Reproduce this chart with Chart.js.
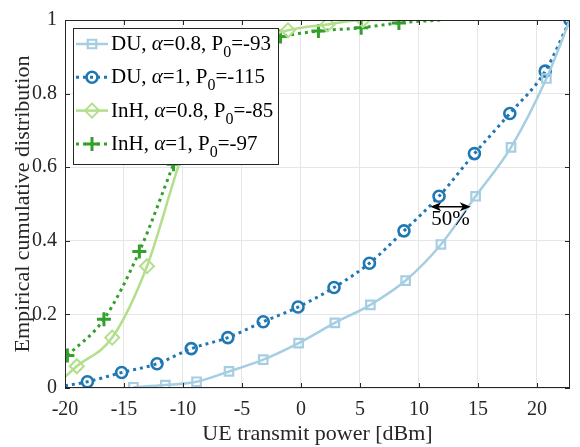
<!DOCTYPE html>
<html>
<head>
<meta charset="utf-8">
<script src="https://cdn.jsdelivr.net/npm/chart.js@4"></script>
<style>
  html, body { margin: 0; padding: 0; background: #fff; }
</style>
</head>
<body>
<canvas id="cdf" width="580" height="447"></canvas>
<script>
// axis ticks
const xTicks = [-20, -15, -10, -5, 0, 5, 10, 15, 20];
const yTicks = [0, 0.2, 0.4, 0.6, 0.8, 1];

// DU, alpha=0.8, P0=-93
const duA08X = [-14.2, -11.5, -8.85, -6.1, -3.2, -0.2, 2.87, 5.88, 8.87, 11.86, 14.8, 17.8, 20.8, 22.8];
const duA08Y = [0.002, 0.008, 0.017, 0.045, 0.077, 0.122, 0.177, 0.226, 0.292, 0.39, 0.521, 0.654, 0.841, 1.0];
// DU, alpha=1, P0=-115
const duA1X = [-20, -18.1, -15.2, -12.2, -9.3, -6.2, -3.2, -0.25, 2.8, 5.8, 8.73, 11.7, 14.7, 17.7, 20.7, 22.8];
const duA1Y = [0.006, 0.017, 0.042, 0.066, 0.107, 0.137, 0.18, 0.22, 0.273, 0.339, 0.427, 0.521, 0.637, 0.746, 0.861, 1.0];
// InH, alpha=0.8, P0=-85
const inhA08X = [-20, -19.0, -16.0, -13.05, -10.1, -7.1, -4.1, -1.1, 2.26, 5.25, 7.9];
const inhA08Y = [0.03, 0.059, 0.137, 0.331, 0.63, 0.86, 0.94, 0.972, 0.988, 1.0, 1.0];
// InH, alpha=1, P0=-97
const inhA1X = [-19.8, -16.7, -13.7, -10.8, -7.8, -4.8, -1.73, 1.48, 5.1, 8.3, 11.8];
const inhA1Y = [0.088, 0.187, 0.371, 0.608, 0.85, 0.93, 0.955, 0.97, 0.979, 0.992, 1.0];

// legend text pieces
const legendNames = ['DU', 'DU', 'InH', 'InH'];
const legendAlpha = ['0.8', '1', '0.8', '1'];
const legendP0 = ['-93', '-115', '-85', '-97'];

// 50% gap annotation
const gapFrom = 10.96, gapTo = 14.39, gapLevel = 0.4925;
const gapLabel = '50%';

const FONT = '"Liberation Serif", "Times New Roman", serif';
const INK = '#262626';

const toPts = (xs, ys) => xs.map((v, i) => ({ x: v, y: ys[i] }));

// points at the plot edges carry no marker
const edgeless = (r) => (c) => {
    const p = c.raw;
    if (!p) return r;
    return (p.x <= -20 || c.dataIndex === c.dataset.data.length - 1 && c.dataset.lastPlain) ? 0 : r;
};

const series = [
    { label: 'DU08', data: toPts(duA08X, duA08Y), borderColor: '#a6cee3', borderWidth: 2.5,
      pointStyle: 'rect', radius: 6, pointBorderWidth: 2.2, lastPlain: true },
    { label: 'DU1', data: toPts(duA1X, duA1Y), borderColor: '#1f78b4', borderWidth: 3, borderDash: [3, 4],
      pointStyle: 'circle', radius: 5.5, pointBorderWidth: 2.6, lastPlain: false },
    { label: 'InH08', data: toPts(inhA08X, inhA08Y), borderColor: '#b2df8a', borderWidth: 2.5,
      pointStyle: 'rectRot', radius: 7, pointBorderWidth: 2, lastPlain: true },
    { label: 'InH1', data: toPts(inhA1X, inhA1Y), borderColor: '#33a02c', borderWidth: 3, borderDash: [3, 4],
      pointStyle: 'cross', radius: 7, pointBorderWidth: 3, lastPlain: true }
];

const datasets = series.map(s => ({
    label: s.label,
    data: s.data,
    lastPlain: s.lastPlain,
    borderColor: s.borderColor,
    borderWidth: s.borderWidth,
    borderDash: s.borderDash || [],
    borderCapStyle: 'butt',
    cubicInterpolationMode: 'monotone',
    pointStyle: s.pointStyle,
    pointRadius: edgeless(s.radius),
    pointHoverRadius: 0,
    pointBorderColor: s.borderColor,
    pointBackgroundColor: 'rgba(255,255,255,0)',
    pointBorderWidth: s.pointBorderWidth,
    fill: false
}));

function drawMarker(ctx, s, cx, cy) {
    ctx.save();
    ctx.strokeStyle = s.borderColor;
    ctx.lineWidth = s.borderWidth;
    ctx.setLineDash(s.borderDash || []);
    ctx.beginPath();
    ctx.moveTo(cx - 16, cy);
    ctx.lineTo(cx + 16, cy);
    ctx.stroke();
    ctx.setLineDash([]);
    ctx.lineWidth = s.pointBorderWidth;
    ctx.fillStyle = 'rgba(255,255,255,0)';
    Chart.helpers.drawPoint(ctx, { pointStyle: s.pointStyle, radius: s.radius, rotation: 0, borderWidth: s.pointBorderWidth }, cx, cy);
    ctx.restore();
}

const frame = {
    id: 'frame',
    afterDatasetsDraw(chart) {
        const { ctx, chartArea: a, scales: { x, y } } = chart;
        ctx.save();

        // box and inward ticks
        ctx.strokeStyle = INK;
        ctx.lineWidth = 1;
        ctx.strokeRect(a.left + 0.5, a.top + 0.5, a.right - a.left - 1, a.bottom - a.top - 1);
        ctx.beginPath();
        xTicks.forEach(v => {
            const px = Math.round(x.getPixelForValue(v)) + 0.5;
            ctx.moveTo(px, a.bottom); ctx.lineTo(px, a.bottom - 5);
            ctx.moveTo(px, a.top); ctx.lineTo(px, a.top + 5);
        });
        yTicks.forEach(v => {
            const py = Math.round(y.getPixelForValue(v)) + 0.5;
            ctx.moveTo(a.left, py); ctx.lineTo(a.left + 5, py);
            ctx.moveTo(a.right, py); ctx.lineTo(a.right - 5, py);
        });
        ctx.stroke();

        // 50% arrow
        const ax0 = x.getPixelForValue(gapFrom), ax1 = x.getPixelForValue(gapTo);
        const ay = y.getPixelForValue(gapLevel);
        ctx.strokeStyle = '#000';
        ctx.fillStyle = '#000';
        ctx.lineWidth = 1.5;
        ctx.beginPath();
        ctx.moveTo(ax0 + 4, ay); ctx.lineTo(ax1 - 4, ay);
        ctx.stroke();
        [[ax0, 1], [ax1, -1]].forEach(([px, d]) => {
            ctx.beginPath();
            ctx.moveTo(px, ay);
            ctx.lineTo(px + d * 11, ay - 4.5);
            ctx.lineTo(px + d * 8, ay);
            ctx.lineTo(px + d * 11, ay + 4.5);
            ctx.closePath();
            ctx.fill();
        });
        ctx.font = '21px ' + FONT;
        ctx.textAlign = 'center';
        ctx.textBaseline = 'alphabetic';
        ctx.fillText(gapLabel, (ax0 + ax1) / 2, ay + 18);

        // legend
        const lx = a.left + 8, ly = a.top + 8, lw = 205, lh = 136;
        ctx.fillStyle = '#fff';
        ctx.fillRect(lx, ly, lw, lh);
        ctx.strokeStyle = INK;
        ctx.lineWidth = 1;
        ctx.strokeRect(lx + 0.5, ly + 0.5, lw, lh);
        series.forEach((s, i) => {
            const cy = ly + 16 + i * 33.3;
            drawMarker(ctx, s, lx + 19, cy);
            let tx = lx + 38;
            const base = cy + 6;
            ctx.fillStyle = '#000';
            ctx.textAlign = 'left';
            ctx.textBaseline = 'alphabetic';
            const put = (txt, font, dy) => {
                ctx.font = font;
                ctx.fillText(txt, tx, base + dy);
                tx += ctx.measureText(txt).width;
            };
            put(legendNames[i] + ', ', '21px ' + FONT, 0);
            put('\u03b1', 'italic 21px ' + FONT, 0);
            put('=' + legendAlpha[i] + ', P', '21px ' + FONT, 0);
            put('0', '16px ' + FONT, 7);
            put('=' + legendP0[i], '21px ' + FONT, 0);
        });
        ctx.restore();
    }
};

new Chart(document.getElementById('cdf'), {
    type: 'line',
    data: { datasets },
    options: {
        responsive: false,
        animation: false,
        devicePixelRatio: 1,
        layout: { padding: { left: 0, top: 13, right: 3, bottom: 0 } },
        plugins: { legend: { display: false }, tooltip: { enabled: false } },
        scales: {
            x: {
                type: 'linear',
                min: -20,
                max: 22.8,
                afterFit: (s) => { s.height = 59; },
                afterBuildTicks: (s) => { s.ticks = xTicks.map(v => ({ value: v })); },
                grid: { color: '#e6e6e6', drawTicks: false },
                border: { display: false },
                ticks: { color: INK, padding: 10, maxRotation: 0, font: { family: FONT, size: 20 },
                         callback: (v) => String(v) },
                title: { display: true, text: 'UE transmit power [dBm]', color: INK,
                         font: { family: FONT, size: 22, lineHeight: 1 }, padding: { top: 0, bottom: 2 } }
            },
            y: {
                min: 0,
                max: 1,
                afterFit: (s) => { s.width = 65; },
                afterBuildTicks: (s) => { s.ticks = yTicks.map(v => ({ value: v })); },
                grid: { color: '#e6e6e6', drawTicks: false },
                border: { display: false },
                ticks: { color: INK, padding: 8, font: { family: FONT, size: 20 },
                         callback: (v) => String(v) },
                title: { display: true, text: 'Empirical cumulative distribution', color: INK,
                         font: { family: FONT, size: 22, lineHeight: 1 }, padding: { top: 12, bottom: 0 } }
            }
        }
    },
    plugins: [frame]
});
</script>
</body>
</html>
